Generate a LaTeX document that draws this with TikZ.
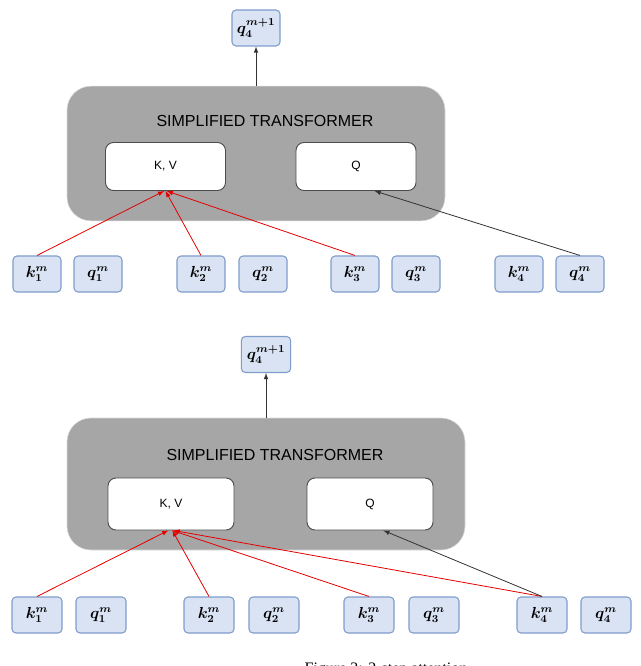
\documentclass[tikz,border=0pt]{standalone}
\usepackage{amsmath,bm}
\usepackage{fontspec}
\setmainfont{Liberation Serif}
\newfontfamily\arialf{Liberation Sans}
\definecolor{tokfill}{HTML}{DAE3F3}
\definecolor{tokdraw}{HTML}{7F9CCB}
\definecolor{boxgray}{HTML}{A6A6A6}
\begin{document}
\begin{tikzpicture}[x=0.75pt,y=-0.75pt,
  tok/.style={draw=tokdraw,fill=tokfill,rounded corners=3pt,line width=0.8pt,minimum width=36pt,minimum height=27pt,inner sep=0pt,font=\large},
  inner/.style={draw=black!70,fill=white,rounded corners=6pt,line width=0.7pt,inner sep=0pt,minimum width=90pt,minimum height=36pt,font=\arialf\small},
  gray box/.style={fill=boxgray,draw=black!15,rounded corners=18pt},
  ttl/.style={font=\arialf\large},
  ra/.style={draw=red!90!black,-latex,line width=0.6pt},
  ba/.style={draw=black!80,-latex,line width=0.6pt}]
\useasboundingbox (0,0) rectangle (640,666);
\clip (0,0) rectangle (640,666);
% ---- top diagram
\node[gray box,minimum width=283.5pt,minimum height=101pt] (G1) at (256,153.5) {};
\node[ttl] (T1) at (265,121) {SIMPLIFIED TRANSFORMER};
\node[inner] (KV1) at (165.5,166.5) {K, V};
\node[inner] (Q1) at (356,166.5) {Q};
\node[tok] (o1) at (256,28) {$\bm{q_4^{m+1}}$};
\foreach \n/\x/\t in {k1/37/k_1,q1/98/q_1,k2/201/k_2,q2/263/q_2,k3/355/k_3,q3/416/q_3,k4/519/k_4,q4/580/q_4}
  \node[tok] (a\n) at (\x,274) {$\bm{\t^m}$};
\coordinate (c1) at (256,86);
\draw[ba] (c1) -- (o1);
\draw[ra] (ak1.north) -- ([xshift=-1pt]KV1.south);
\draw[ra] (ak2.north) -- ([xshift=0pt]KV1.south);
\draw[ra] (ak3.north) -- ([xshift=1pt]KV1.south);
\draw[ba] (aq4.north) -- ([xshift=14pt]Q1.south);
% ---- bottom diagram
\node[gray box,minimum width=298.5pt,minimum height=99pt] (G2) at (266,484) {};
\node[ttl] (T2) at (275,455) {SIMPLIFIED TRANSFORMER};
\node[inner,minimum width=94.5pt,minimum height=39pt] (KV2) at (171,504) {K, V};
\node[inner,minimum width=94.5pt,minimum height=39pt] (Q2) at (370,504) {Q};
\node[tok,minimum width=37pt] (o2) at (266,354.5) {$\bm{q_4^{m+1}}$};
\foreach \n/\x/\t in {k1/37/k_1,q1/101/q_1,k2/209/k_2,q2/274/q_2,k3/369/k_3,q3/434/q_3,k4/542/k_4,q4/606/q_4}
  \node[tok,minimum width=37.5pt] (b\n) at (\x,615) {$\bm{\t^m}$};
\coordinate (c2) at (266,418);
\draw[ba] (c2) -- (o2);
\draw[ra] (bk1.north) -- ([xshift=-2pt]KV2.south);
\draw[ra] (bk2.north) -- ([xshift=1pt]KV2.south);
\draw[ra] (bk3.north) -- ([xshift=1pt]KV2.south);
\draw[ra] (bk4.north) -- ([xshift=2pt]KV2.south);
\draw[ba] (bk4.north) -- ([xshift=10pt]Q2.south);
\node[anchor=north west,font=\large] (cap) at (300,658) {Figure 2: 2-step attention};
\end{tikzpicture}
\end{document}
